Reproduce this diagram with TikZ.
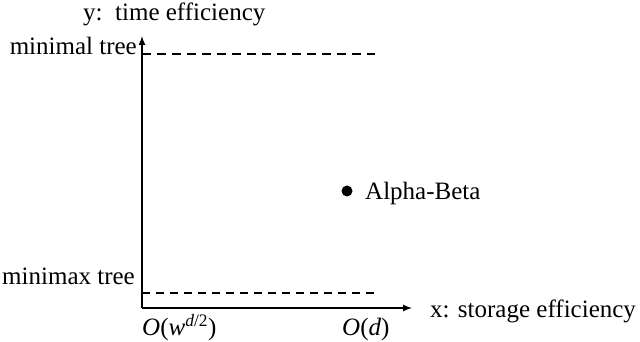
\documentclass[tikz,border=0pt]{standalone}
\usepackage{fontspec}
\setmainfont{Liberation Serif}
\usepackage{tikz}
\usetikzlibrary{calc, positioning}

\tikzset{
    lbl/.style={inner sep=0pt, font=\fontsize{25}{30}\selectfont},
    axis/.style={line width=2pt},
    level/.style={dash pattern=on 9pt off 6pt}
}

\begin{document}
\begin{tikzpicture}[>=latex, x=1pt, y=1pt]
    \useasboundingbox (0,0) rectangle (640,342);

    % Hệ trục tọa độ
    \coordinate (O) at (142,34);
    \coordinate (xend) at (412,34);
    \coordinate (yend) at (142,306);
    \draw[axis, ->] (O) -- (xend);
    \draw[axis, ->] (O) -- (yend);
    \node[lbl, anchor=base west] (xlab) at (430,24) {x: storage efficiency};
    \node[lbl, anchor=base west] (ylab) at (83,321) {y:\, time efficiency};

    % Các mức minimal / minimax
    \coordinate (top0) at (142,288);
    \coordinate (top1) at (375,288);
    \coordinate (bot0) at (142,49);
    \coordinate (bot1) at (375,49);
    \draw[level, line width=1.8pt] (top0) -- (top1);
    \draw[level, line width=1.3pt, dash pattern=on 8pt off 6pt] (bot0) -- (bot1);
    \node[lbl, anchor=base east] (minimal) at (137,287) {minimal tree};
    \node[lbl, anchor=base east] (minimax) at (135,57) {minimax tree};

    % Đánh dấu các điểm trên trục Ox
    \node[lbl, anchor=base west] (wd) at (142,6) {\textit{O}(\textit{w}\textsuperscript{\textit{d}/2})};
    \node[lbl, anchor=base west] (od) at (342,6) {\textit{O}(\textit{d})};

    % Alpha-Beta
    \node[circle, fill, inner sep=0pt, minimum size=11pt] (ab) at (347,151) {};
    \node[lbl, anchor=base west] (ablab) at (365,142) {Alpha-Beta};
\end{tikzpicture}
\end{document}
